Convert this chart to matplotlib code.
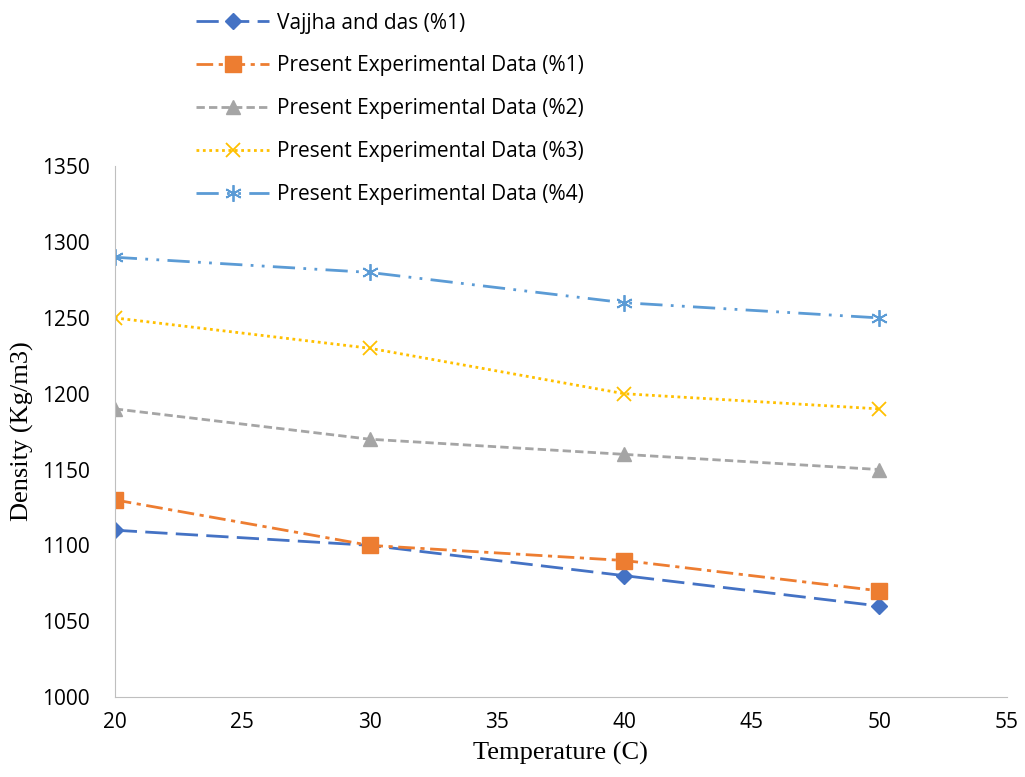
import numpy as np
import matplotlib.pyplot as plt

# data
temperature = [20, 30, 40, 50]
vajjha_1 = [1110, 1100, 1080, 1060]
present_1 = [1130, 1100, 1090, 1070]
present_2 = [1190, 1170, 1160, 1150]
present_3 = [1250, 1230, 1200, 1190]
present_4 = [1290, 1280, 1260, 1250]

labels = [
    "Vajjha and das (%1)",
    "Present Experimental Data (%1)",
    "Present Experimental Data (%2)",
    "Present Experimental Data (%3)",
    "Present Experimental Data (%4)",
]
x_ticks = [20, 25, 30, 35, 40, 45, 50, 55]
y_ticks = [1000, 1050, 1100, 1150, 1200, 1250, 1300, 1350]

fig = plt.figure(figsize=(10.25, 7.77), dpi=100)
ax = fig.add_axes([0.112, 0.103, 0.870, 0.683])

ax.plot(temperature, vajjha_1, color="#4472C4", linestyle=(0, (8, 3)),
        linewidth=2.0, marker="D", markersize=8, label=labels[0])
ax.plot(temperature, present_1, color="#ED7D31", linestyle=(0, (6, 2, 1.5, 2)),
        linewidth=2.0, marker="s", markersize=11, label=labels[1])
ax.plot(temperature, present_2, color="#A5A5A5", linestyle=(0, (3, 1.5)),
        linewidth=2.0, marker="^", markersize=10, label=labels[2])
ax.plot(temperature, present_3, color="#FFC000", linestyle=(0, (1, 1.3)),
        linewidth=2.0, marker="x", markersize=10, markeredgewidth=1.3, label=labels[3])
ax.plot(temperature, present_4, color="#5B9BD5", linestyle=(0, (8, 3, 1, 3, 1, 3)),
        linewidth=2.0, marker=(6, 2, 0), markersize=12, markeredgewidth=1.3, label=labels[4])

ax.set_xlim(20, 55)
ax.set_ylim(1000, 1350)
ax.set_xticks(x_ticks)
ax.set_yticks(y_ticks)
ax.tick_params(length=0, labelsize=15)
ax.tick_params(axis="x", pad=11)
ax.tick_params(axis="y", pad=18)
for lbl in ax.get_xticklabels() + ax.get_yticklabels():
    lbl.set_family("Open Sans")
ax.spines["top"].set_visible(False)
ax.spines["right"].set_visible(False)
ax.spines["left"].set_color("#BFBFBF")
ax.spines["bottom"].set_color("#BFBFBF")

ax.set_xlabel("Temperature (C)", fontsize=19, family="Liberation Serif", labelpad=6)
ax.set_ylabel("Density (Kg/m3)", fontsize=19, family="Liberation Serif", labelpad=6)

fig.legend(loc="upper left", bbox_to_anchor=(0.173, 1.008), frameon=False,
           handlelength=3.5, handletextpad=0.4, labelspacing=1.05,
           prop={"family": "Open Sans", "size": 15})

fig.savefig("out.png", dpi=100)
